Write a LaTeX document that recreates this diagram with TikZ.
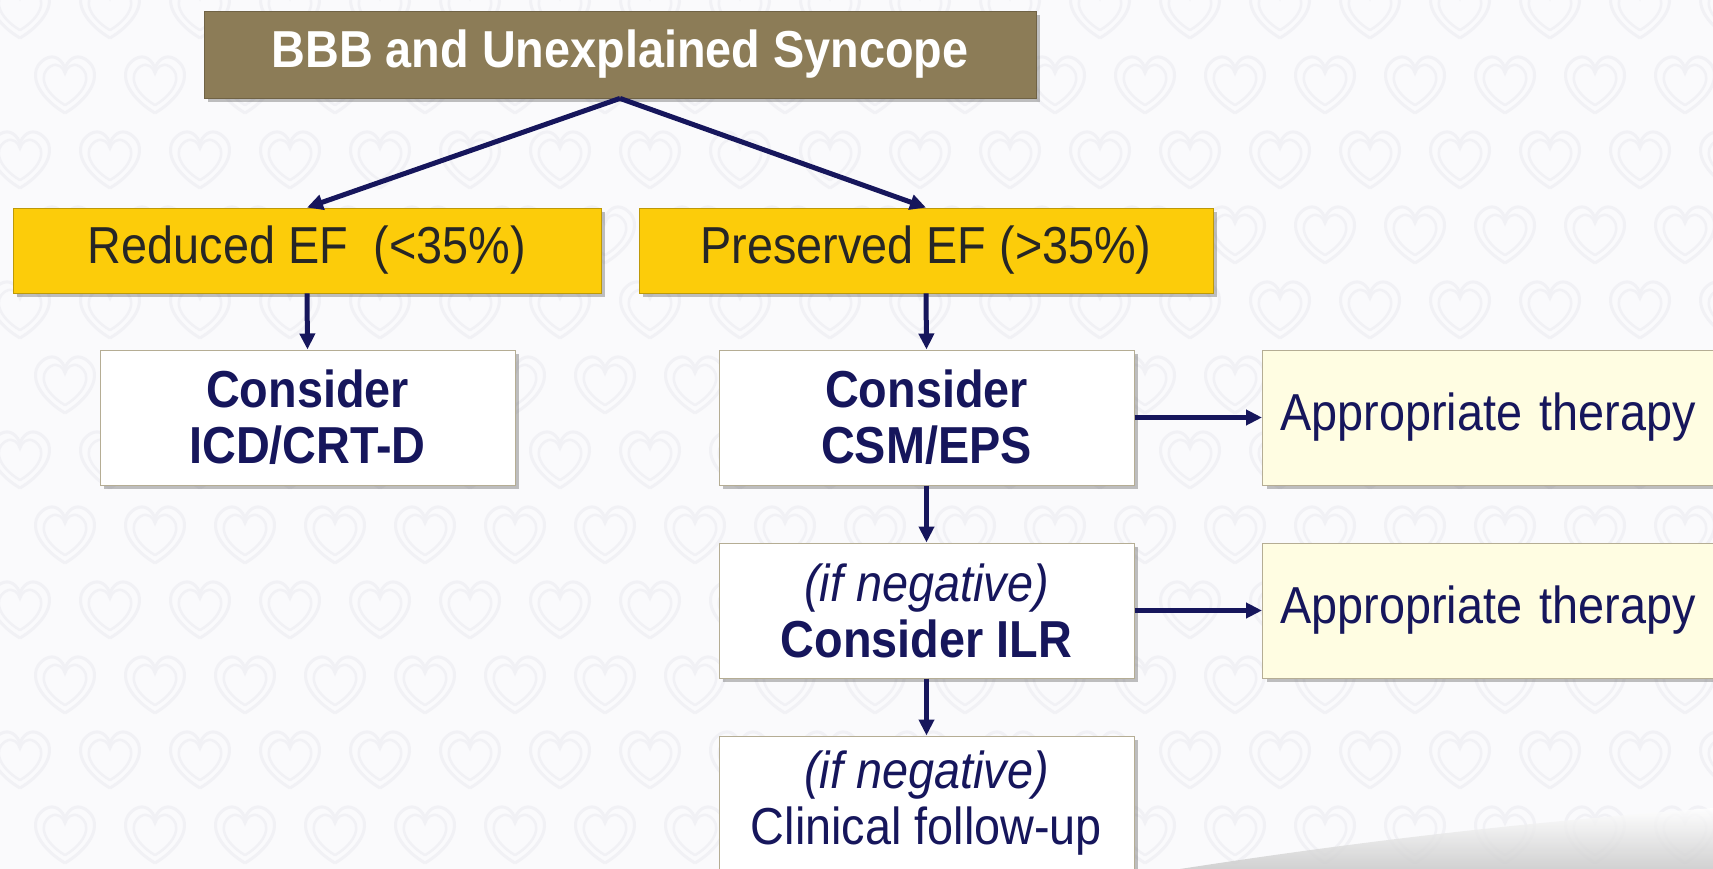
\documentclass[tikz,border=0pt]{standalone}
\usepackage{fontspec}
\setmainfont[FakeStretch=0.9]{Liberation Sans}
\usetikzlibrary{shadows,arrows.meta}

\definecolor{bgc}{HTML}{FAFAFC}
\definecolor{patc}{HTML}{F1F1F5}
\definecolor{titlefill}{HTML}{8C7C57}
\definecolor{efyellow}{HTML}{FCCC0A}
\definecolor{navy}{HTML}{16165C}
\definecolor{cream}{HTML}{FFFDE2}
\definecolor{edge}{HTML}{B5AD94}

\tikzset{
  bgheart/.pic={
    \draw[patc, line width=3pt]
      (0,28) .. controls (-30,10) and (-38,-15) .. (-20,-26)
      .. controls (-10,-32) and (-2,-24) .. (0,-16)
      .. controls (2,-24) and (10,-32) .. (20,-26)
      .. controls (38,-15) and (30,10) .. (0,28);
    \draw[patc, line width=2.5pt, scale=0.72]
      (0,28) .. controls (-30,10) and (-38,-15) .. (-20,-26)
      .. controls (-10,-32) and (-2,-24) .. (0,-16)
      .. controls (2,-24) and (10,-32) .. (20,-26)
      .. controls (38,-15) and (30,10) .. (0,28);
  }
}

\begin{document}
\begin{tikzpicture}[x=1pt, y=-1pt,
  shadowed/.style={drop shadow={shadow xshift=4pt, shadow yshift=-4pt,
      opacity=0.35, fill=black!70}},
  titlebox/.style={shadowed, fill=titlefill, draw=titlefill!80!black, line width=0.8pt,
      minimum width=832pt, minimum height=87pt, inner sep=0pt,
      text=white, font=\fontsize{52}{57}\selectfont\bfseries},
  efbox/.style={shadowed, fill=efyellow, draw=efyellow!75!black, line width=0.8pt,
      minimum height=85pt, inner sep=0pt,
      text=black!85, font=\fontsize{52}{57}\selectfont},
  stepbox/.style={shadowed, fill=white, draw=edge, line width=1pt,
      minimum width=415pt, minimum height=135pt, inner sep=0pt, align=center,
      text=navy, font=\fontsize{52}{56}\selectfont},
  therapybox/.style={shadowed, fill=cream, draw=edge, line width=1pt,
      text width=432pt, minimum height=135pt, inner xsep=18pt, inner ysep=0pt,
      align=left, text=navy, font=\fontsize{52}{56}\selectfont},
  link/.style={navy, line width=5pt,
      -{Triangle[length=16pt, width=15pt]}}
]
% fixed page frame; anything beyond it is cut off
\useasboundingbox (0,0) rectangle (1713,869);
\clip (0,0) rectangle (1713,869);

% page background with its faint embossed pattern
\fill[bgc] (0,0) rectangle (1713,869);
\foreach \r in {0,...,12} {
  \foreach \c in {0,...,19} {
    \pgfmathsetmacro{\px}{\c*90 + mod(\r,2)*45 + 20}
    \pgfmathsetmacro{\py}{\r*75 + 10}
    \pic at (\px,\py) {bgheart};
  }
}
% soft swoosh in the lower right corner
\shade[top color=white, bottom color=black!22, opacity=0.8]
  (1180,869) .. controls (1400,835) and (1560,820) .. (1713,808)
  -- (1713,869) -- cycle;

% boxes
\node[titlebox] (title) at (620,54.5) {BBB and Unexplained Syncope};

\node[efbox, minimum width=588pt] (reduced) at (307,250.5) {Reduced EF~~(<35\%)};
\node[efbox, minimum width=574pt] (preserved) at (926,250.5) {Preserved EF (>35\%)};

\node[stepbox] (icd) at (307.5,417.5) {\textbf{Consider}\\\textbf{ICD/CRT-D}};
\node[stepbox] (csm) at (926.5,417.5) {\textbf{Consider}\\\textbf{CSM/EPS}};
\node[stepbox] (ilr) at (926.5,610.5) {\textit{(if negative)}\\\textbf{Consider ILR}};
\node[stepbox] (followup) at (926.5,803.5) {\textit{(if negative)}\\Clinical follow-up};

\node[therapybox, anchor=west] (therapyA) at (1262,417.5) {Appropriate therapy};
\node[therapybox, anchor=west] (therapyB) at (1262,610.5) {Appropriate therapy};

% connectors
\draw[link] (title.south) -- (reduced.north);
\draw[link] (title.south) -- (preserved.north);
\draw[link] (reduced.south) -- (icd.north);
\draw[link] (preserved.south) -- (csm.north);
\draw[link] (csm.south) -- (ilr.north);
\draw[link] (ilr.south) -- (followup.north);
\draw[link] (csm.east) -- (therapyA.west);
\draw[link] (ilr.east) -- (therapyB.west);
\end{tikzpicture}
\end{document}
